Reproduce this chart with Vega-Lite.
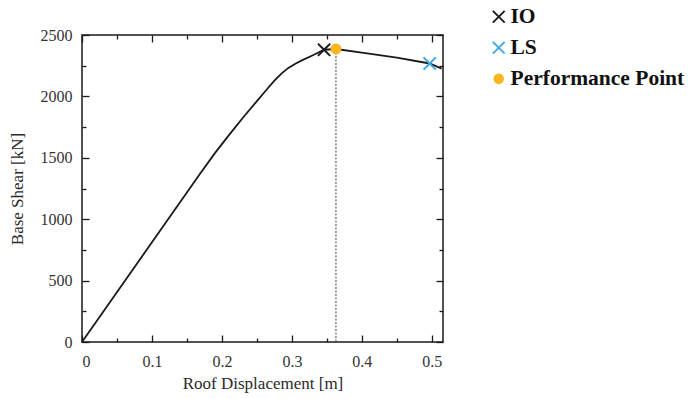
{
  "$schema": "https://vega.github.io/schema/vega-lite/v6.json",
  "autosize": "none",
  "padding": {"left": 82, "top": 35, "right": 245, "bottom": 57},
  "width": 361,
  "height": 307,
  "config": {
    "font": "Liberation Serif",
    "view": {"stroke": "#1a1a1a", "strokeWidth": 1.5},
    "axis": {
      "domain": false,
      "grid": false,
      "tickColor": "#1a1a1a",
      "tickWidth": 1.3,
      "labelFont": "Liberation Serif",
      "labelFontSize": 16,
      "labelColor": "#333",
      "titleFont": "Liberation Serif",
      "titleFontSize": 17,
      "titleFontWeight": "normal",
      "titleColor": "#2a2a2a"
    }
  },
  "datasets": {
    "pushover": [
      {"d": 0, "v": 0},
      {"d": 0.1, "v": 812},
      {"d": 0.17, "v": 1380},
      {"d": 0.19, "v": 1538},
      {"d": 0.21, "v": 1685},
      {"d": 0.23, "v": 1826},
      {"d": 0.25, "v": 1962},
      {"d": 0.265, "v": 2062},
      {"d": 0.275, "v": 2128},
      {"d": 0.285, "v": 2186},
      {"d": 0.295, "v": 2232},
      {"d": 0.305, "v": 2266},
      {"d": 0.315, "v": 2295},
      {"d": 0.33, "v": 2335},
      {"d": 0.346, "v": 2380},
      {"d": 0.363, "v": 2386},
      {"d": 0.4, "v": 2356},
      {"d": 0.45, "v": 2316},
      {"d": 0.497, "v": 2268},
      {"d": 0.514, "v": 2226}
    ],
    "levels": [
      {"d": 0.346, "v": 2380, "level": "IO"},
      {"d": 0.497, "v": 2268, "level": "LS"},
      {"d": 0.363, "v": 2386, "level": "Performance Point"}
    ]
  },
  "resolve": {"axis": {"x": "independent", "y": "independent"}},
  "layer": [
    {
      "data": {"name": "pushover"},
      "mark": {"type": "line", "color": "#1a1a1a", "strokeWidth": 1.8},
      "encoding": {
        "x": {
          "field": "d", "type": "quantitative",
          "scale": {"domain": [0, 0.516], "nice": false, "zero": true},
          "axis": {
            "orient": "bottom",
            "title": "Roof Displacement [m]",
            "values": [0, 0.05, 0.1, 0.15, 0.2, 0.25, 0.3, 0.35, 0.4, 0.45, 0.5],
            "labelExpr": "abs(datum.value * 10 - round(datum.value * 10)) < 0.001 ? format(datum.value, '.1~f') : ''",
            "tickSize": {"condition": {"test": "abs(datum.value * 10 - round(datum.value * 10)) < 0.001", "value": -7}, "value": -4},
            "labelPadding": 18,
            "titlePadding": 6
          }
        },
        "y": {
          "field": "v", "type": "quantitative",
          "scale": {"domain": [0, 2500], "nice": false},
          "axis": {
            "orient": "left",
            "title": "Base Shear [kN]",
            "format": "d",
            "values": [0, 250, 500, 750, 1000, 1250, 1500, 1750, 2000, 2250, 2500],
            "labelExpr": "datum.value % 500 === 0 ? datum.label : ''",
            "tickSize": {"condition": {"test": "datum.value % 500 === 0", "value": -7}, "value": -4},
            "labelPadding": 17,
            "titlePadding": 14
          }
        }
      }
    },
    {
      "data": {"name": "levels"},
      "transform": [{"filter": "datum.level === 'Performance Point'"}],
      "mark": {"type": "rule", "color": "#444", "strokeWidth": 1, "strokeDash": [2, 1.5]},
      "encoding": {
        "x": {"field": "d", "type": "quantitative", "axis": null},
        "y": {"field": "v", "type": "quantitative", "axis": null},
        "y2": {"datum": 0}
      }
    },
    {
      "data": {"name": "levels"},
      "mark": {"type": "point", "filled": true, "opacity": 1, "size": 120},
      "encoding": {
        "x": {"field": "d", "type": "quantitative", "axis": null},
        "y": {"field": "v", "type": "quantitative", "axis": null},
        "color": {
          "field": "level", "type": "nominal",
          "scale": {"domain": ["IO", "LS", "Performance Point"], "range": ["#1a1a1a", "#3fa9e0", "#f9b51b"]},
          "legend": {
            "title": null,
            "orient": "none",
            "legendX": 406,
            "legendY": -29,
            "labelFont": "Liberation Serif",
            "labelFontSize": 21.5,
            "labelFontWeight": "bold",
            "labelColor": "#111",
            "labelLimit": 300,
            "symbolSize": 110,
            "rowPadding": 8,
            "labelOffset": 1
          }
        },
        "shape": {
          "field": "level", "type": "nominal",
          "scale": {
            "domain": ["IO", "LS", "Performance Point"],
            "range": [
              "M-0.996,-1.25L0,-0.255L0.996,-1.25L1.25,-0.996L0.255,0L1.25,0.996L0.996,1.25L0,0.255L-0.996,1.25L-1.25,0.996L-0.255,0L-1.25,-0.996Z",
              "M-0.996,-1.25L0,-0.255L0.996,-1.25L1.25,-0.996L0.255,0L1.25,0.996L0.996,1.25L0,0.255L-0.996,1.25L-1.25,0.996L-0.255,0L-1.25,-0.996Z",
              "circle"
            ]
          }
        }
      }
    },
    {
      "data": {"name": "levels"},
      "mark": {"type": "point", "opacity": 0},
      "encoding": {
        "x": {
          "field": "d", "type": "quantitative",
          "axis": {
            "orient": "top",
            "title": null,
            "labels": false,
            "values": [0, 0.05, 0.1, 0.15, 0.2, 0.25, 0.3, 0.35, 0.4, 0.45, 0.5],
            "tickSize": {"condition": {"test": "abs(datum.value * 10 - round(datum.value * 10)) < 0.001", "value": -7}, "value": -4}
          }
        },
        "y": {
          "field": "v", "type": "quantitative",
          "axis": {
            "orient": "right",
            "title": null,
            "labels": false,
            "values": [0, 250, 500, 750, 1000, 1250, 1500, 1750, 2000, 2250, 2500],
            "tickSize": {"condition": {"test": "datum.value % 500 === 0", "value": -7}, "value": -4}
          }
        }
      }
    }
  ]
}
